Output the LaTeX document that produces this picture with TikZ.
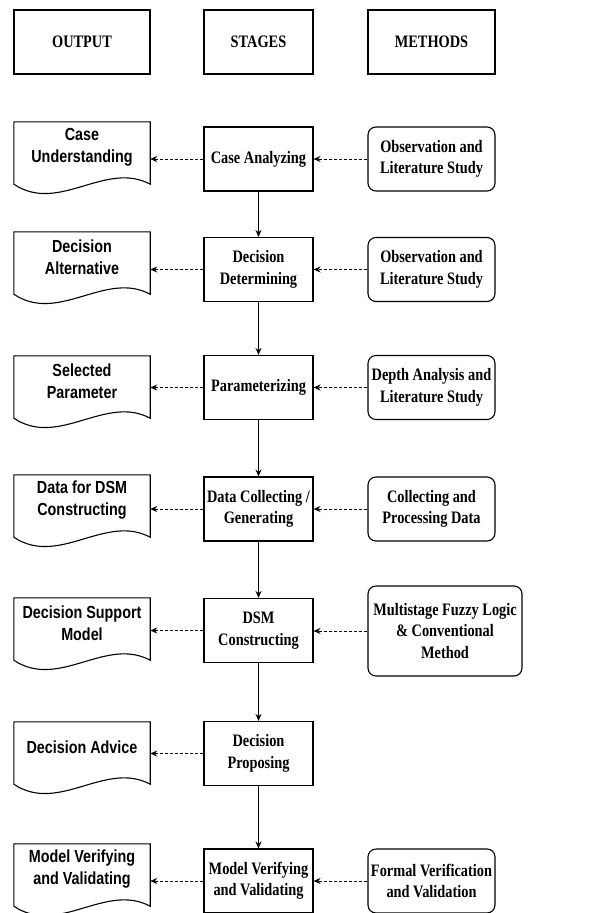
\documentclass[tikz,border=0pt]{standalone}
\usepackage{fontspec}
\setmainfont{Liberation Serif}[FakeStretch=0.82]
\newfontfamily\docfont{Liberation Sans}[FakeStretch=0.82]
\usetikzlibrary{arrows.meta}
\tikzset{
  boxtext/.style={font=\fontsize{17.5}{21.5}\selectfont\bfseries, align=center, inner sep=0pt},
  hdrbox/.style={boxtext, draw, line width=1.1pt, minimum height=64pt},
  stagebox/.style={boxtext, draw, line width=1.1pt, minimum width=109pt, minimum height=64pt},
  methbox/.style={boxtext, draw, line width=1.1pt, rounded corners=8pt, minimum width=127pt, minimum height=64pt},
  outdoc/.style={boxtext, font=\docfont\fontsize{17.5}{21.5}\selectfont\bfseries, minimum width=136pt, minimum height=50pt},
  flow/.style={-{Stealth[length=7pt,width=6pt]}, line width=1.1pt},
  feed/.style={-{Stealth[length=7pt,width=6pt]}, line width=1pt, dash pattern=on 3pt off 2pt},
}
\begin{document}
\begin{tikzpicture}[x=1pt, y=-1pt]
  \useasboundingbox (0,0) rectangle (612,913);

  %% --- column headers ---
  \node[hdrbox, minimum width=136pt] (hout) at (82,42) {OUTPUT};
  \node[hdrbox, minimum width=109pt] (hstg) at (258.5,42) {STAGES};
  \node[hdrbox, minimum width=127pt] (hmet) at (431.5,42) {METHODS};

  %% --- stages (middle column) ---
  \node[stagebox] (s1) at (258.5,159)   {Case Analyzing};
  \node[stagebox] (s2) at (258.5,269.5) {Decision\\Determining};
  \node[stagebox] (s3) at (258.5,387.5) {Parameterizing};
  \node[stagebox] (s4) at (258.5,509)   {Data Collecting /\\Generating};
  \node[stagebox] (s5) at (258.5,630.5) {DSM\\Constructing};
  \node[stagebox] (s6) at (258.5,753.5) {Decision\\Proposing};
  \node[stagebox] (s7) at (258.5,881)   {Model Verifying\\and Validating};

  %% --- methods (right column) ---
  \node[methbox] (m1) at (431.5,159)   {Observation and\\Literature Study};
  \node[methbox] (m2) at (431.5,269.5) {Observation and\\Literature Study};
  \node[methbox] (m3) at (431.5,387.5) {Depth Analysis and\\Literature Study};
  \node[methbox] (m4) at (431.5,509)   {Collecting and\\Processing Data};
  \node[methbox, minimum width=154pt, minimum height=90pt] (m5) at (445,631)
    {Multistage Fuzzy Logic\\\& Conventional\\Method};
  \node[methbox] (m7) at (431.5,881)   {Formal Verification\\and Validation};

  %% --- outputs (left column, document shape) ---
  \node[outdoc] (o1) at (82,147) {Case\\Understanding};
  \node[outdoc] (o2) at (82,257) {Decision\\Alternative};
  \node[outdoc] (o3) at (82,381) {Selected\\Parameter};
  \node[outdoc] (o4) at (82,500) {Data for DSM\\Constructing};
  \node[outdoc] (o5) at (82,623) {Decision Support\\Model};
  \node[outdoc] (o6) at (82,747) {Decision Advice};
  \node[outdoc] (o7) at (82,869) {Model Verifying\\and Validating};

  %% wavy bottom of each document
  \foreach \i in {1,...,7} {
    \draw[line width=1.1pt] (o\i.north west) -- (o\i.north east) -- ([yshift=-12pt]o\i.south east)
      .. controls ([xshift=-45pt,yshift=12pt]o\i.south east) and ([xshift=45pt,yshift=-42pt]o\i.south west)
      .. ([yshift=-12pt]o\i.south west) -- cycle;
  }

  %% --- connectors ---
  \foreach \a/\b in {s1/s2, s2/s3, s3/s4, s4/s5, s5/s6, s6/s7} {
    \draw[flow] (\a.south) -- (\b.north);
  }
  \foreach \i in {1,2,3,4,5,7} {
    \draw[feed] (m\i.west) -- (m\i.west -| s\i.east);
  }
  \foreach \i in {1,...,7} {
    \draw[feed] (s\i.west) -- (s\i.west -| o\i.east);
  }
\end{tikzpicture}
\end{document}
